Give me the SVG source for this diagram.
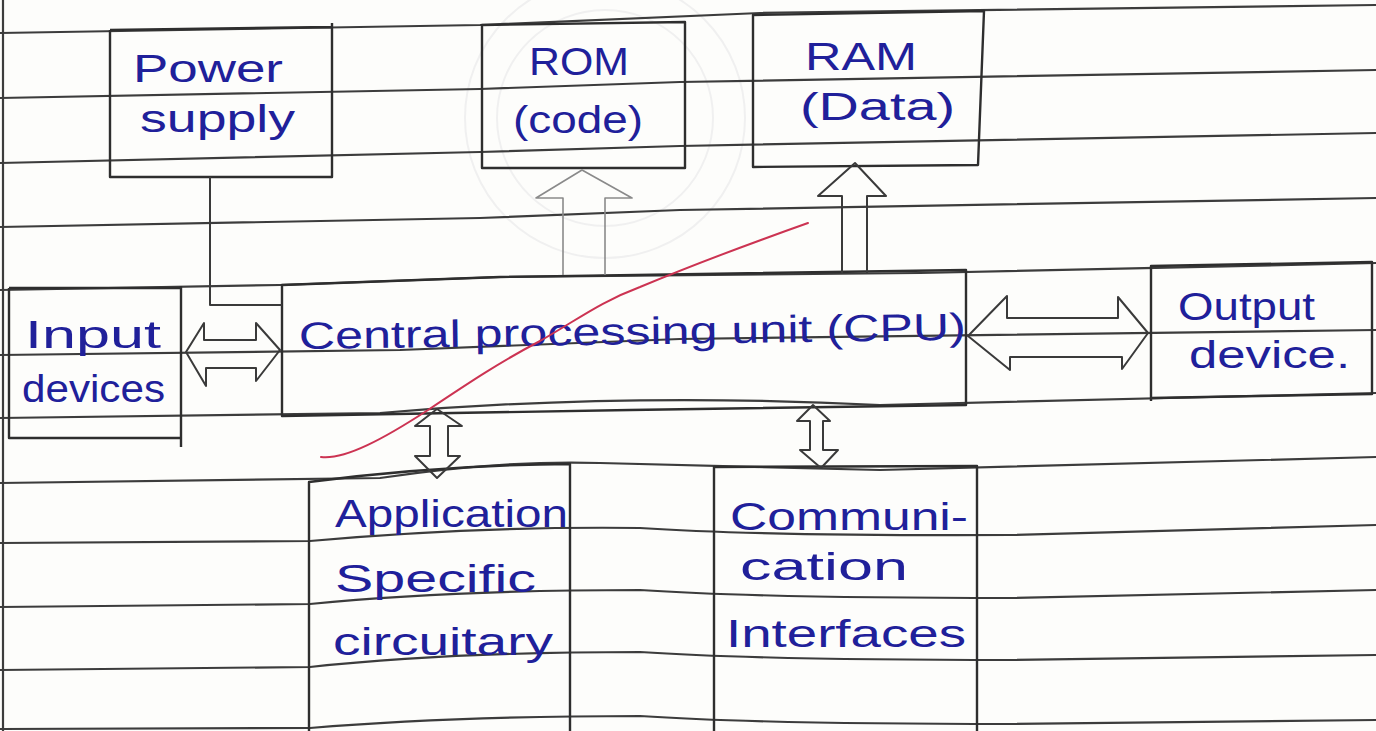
<svg xmlns="http://www.w3.org/2000/svg" width="1376" height="731" viewBox="0 0 1376 731">
  <style>
    .rule { fill: none; stroke: #3c3c3c; stroke-width: 2.2; stroke-linecap: round; }
    .box { fill: none; stroke: #2e2e2e; stroke-width: 2.4; stroke-linejoin: round; }
    .conn { fill: none; stroke: #3a3a3a; stroke-width: 2; stroke-linejoin: round; }
    .faint { stroke: #8a8a8a; stroke-width: 1.6; }
    .ink { font-family: "Liberation Sans", "DejaVu Sans", sans-serif; font-size: 38px; fill: #20209a; }
    .seal { fill: none; stroke: #f0f0f0; stroke-width: 2; }
  </style>

  <!-- paper -->
  <rect x="0" y="0" width="1376" height="731" fill="#fdfdfb"/>

  <!-- faint stamp showing through the sheet -->
  <g id="stamp">
    <circle class="seal" cx="605" cy="118" r="140"/>
    <circle class="seal" cx="605" cy="118" r="108"/>
  </g>

  <!-- ruled lines of the notebook page -->
  <g id="ruling">
    <path class="rule" d="M3,0 V731"/>
    <path class="rule" d="M0,33 L480,25 L760,13 L1376,5"/>
    <path class="rule" d="M0,98 L480,89 L680,82 L1376,70"/>
    <path class="rule" d="M0,163 L480,152 L680,146 L1376,133"/>
    <path class="rule" d="M0,227 L480,218 L680,210 L1376,198"/>
    <path class="rule" d="M0,290 L280,285 L500,277 L920,273 L1376,263"/>
    <path class="rule" d="M0,355 L400,350 L680,339 L1376,330"/>
    <path class="rule" d="M0,418 L380,413 Q620,392 880,405 L1376,393"/>
    <path class="rule" d="M0,483 L380,478 Q500,460 600,463 Q700,465 880,470 L1376,457"/>
    <path class="rule" d="M0,543 L310,541 Q480,526 640,528 Q760,536 1010,535 L1376,525"/>
    <path class="rule" d="M0,607 L310,604 Q450,590 640,590 Q760,598 1010,598 L1376,590"/>
    <path class="rule" d="M0,670 L310,667 Q450,652 640,652 Q760,660 1010,660 L1376,655"/>
    <path class="rule" d="M0,729 L310,728 Q450,716 640,716 Q760,724 1010,724 L1376,720"/>
  </g>

  <!-- blocks -->
  <g id="power-supply">
    <path class="box" d="M110,30 L332,27 M110,30 V177 H332 V23"/>
    <text class="ink" x="133" y="82" textLength="150" lengthAdjust="spacingAndGlyphs">Power</text>
    <text class="ink" x="140" y="132" textLength="155" lengthAdjust="spacingAndGlyphs">supply</text>
  </g>

  <g id="rom">
    <path class="box" d="M482,25 L685,22 V168 H482 Z"/>
    <text class="ink" x="529" y="75" textLength="100" lengthAdjust="spacingAndGlyphs">ROM</text>
    <text class="ink" x="513" y="133" textLength="130" lengthAdjust="spacingAndGlyphs">(code)</text>
  </g>

  <g id="ram">
    <path class="box" d="M753,15 L984,11 L978,165 L753,167 Z"/>
    <text class="ink" x="805" y="70" textLength="112" lengthAdjust="spacingAndGlyphs">RAM</text>
    <text class="ink" x="800" y="120" textLength="155" lengthAdjust="spacingAndGlyphs">(Data)</text>
  </g>

  <g id="input-devices">
    <path class="box" d="M9,288 H181 M9,288 V438 H181 M181,286 V447"/>
    <text class="ink" x="25" y="348" textLength="136" lengthAdjust="spacingAndGlyphs">Input</text>
    <text class="ink" x="22" y="402" textLength="143" lengthAdjust="spacingAndGlyphs">devices</text>
  </g>

  <g id="cpu">
    <path class="box" d="M282,285 L500,277 L966,270 V405 L630,410 L282,416 Z"/>
    <text class="ink" x="299" y="349" textLength="667" lengthAdjust="spacingAndGlyphs" font-size="40" transform="rotate(-0.8 299 349)">Central processing unit (CPU)</text>
  </g>

  <g id="output-device">
    <path class="box" d="M1151,266 L1372,262 V394 L1151,398 Z M1151,266 V401"/>
    <text class="ink" x="1178" y="320" textLength="137" lengthAdjust="spacingAndGlyphs">Output</text>
    <text class="ink" x="1189" y="368" textLength="161" lengthAdjust="spacingAndGlyphs">device.</text>
  </g>

  <g id="application-circuitry">
    <path class="box" d="M309,731 V482 Q440,465 570,464 V731"/>
    <text class="ink" x="335" y="527" textLength="233" lengthAdjust="spacingAndGlyphs">Application</text>
    <text class="ink" x="335" y="592" textLength="201" lengthAdjust="spacingAndGlyphs">Specific</text>
    <text class="ink" x="333" y="655" textLength="220" lengthAdjust="spacingAndGlyphs">circuitary</text>
  </g>

  <g id="communication-interfaces">
    <path class="box" d="M714,731 V467 L977,466 V731"/>
    <text class="ink" x="730" y="530" textLength="238" lengthAdjust="spacingAndGlyphs">Communi-</text>
    <text class="ink" x="740" y="580" textLength="168" lengthAdjust="spacingAndGlyphs">cation</text>
    <text class="ink" x="726" y="647" textLength="240" lengthAdjust="spacingAndGlyphs">Interfaces</text>
  </g>

  <!-- connectors -->
  <g id="connectors">
    <!-- power feed into the CPU -->
    <polyline class="conn" points="210,177 210,305 282,305"/>
    <!-- input devices <-> CPU -->
    <path class="conn" d="M186,352 L204,323 V340 H256 V323 L280,350 L256,381 V368 H206 V386 Z"/>
    <!-- CPU <-> output device -->
    <path class="conn" d="M968,336 L1007,296 V318 H1118 V297 L1148,333 L1122,369 V357 H1010 V370 Z"/>
    <!-- CPU -> ROM -->
    <path class="conn faint" d="M563,275 V198 H536 L582,170 L632,198 H605 V275"/>
    <!-- CPU -> RAM -->
    <path class="conn" d="M842,273 V196 H818 L855,163 L886,196 H867 V273"/>
    <!-- CPU <-> application specific circuitry -->
    <path class="conn" d="M437,409 L462,426 H448 V456 H460 L437,478 L415,456 H430 V426 H415 Z"/>
    <!-- CPU <-> communication interfaces -->
    <path class="conn" d="M813,405 L830,421 H823 V450 H838 L821,468 L800,450 H810 V421 H797 Z"/>
  </g>

  <!-- red pen stroke across the page -->
  <path d="M321,457 C345,460 385,438 428,410 C470,382 500,362 540,341 C580,318 600,302 640,287 C700,262 760,240 808,223" fill="none" stroke="#cc3352" stroke-width="2" stroke-linecap="round"/>
</svg>
